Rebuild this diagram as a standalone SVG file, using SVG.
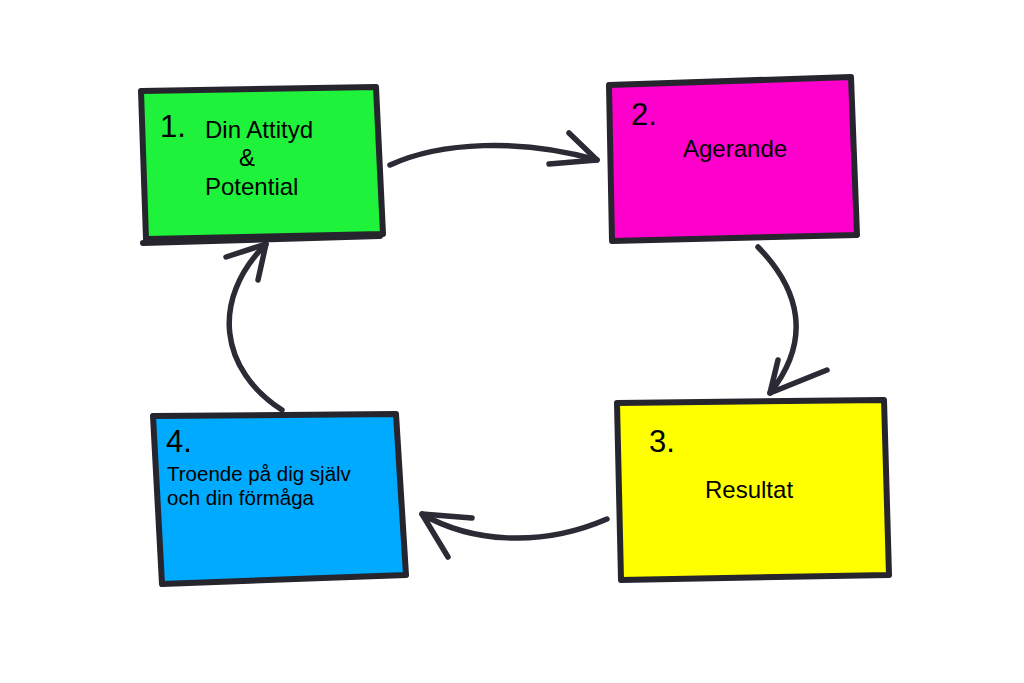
<svg xmlns="http://www.w3.org/2000/svg" width="1024" height="683" viewBox="0 0 1024 683">
<style>
.box{stroke:#26252e;stroke-width:6;stroke-linejoin:round;stroke-linecap:round}
.edge{fill:none;stroke:#2b2a35;stroke-width:5.5;stroke-linecap:round;stroke-linejoin:round}
.num{font-family:"Liberation Sans",Arial,sans-serif;font-size:31px;fill:#000}
.lbl{font-family:"Liberation Sans",Arial,sans-serif;font-size:24px;fill:#000}
.sm{font-family:"Liberation Sans",Arial,sans-serif;font-size:20.5px;fill:#000}
</style>
<rect width="1024" height="683" fill="#ffffff"/>
<g id="connectors">
<g id="e1-2"><path class="edge" d="M390,165 C440,142 520,138 597,160"/><path class="edge" d="M569,133 L597,160 L549,164"/></g>
<g id="e2-3"><path class="edge" d="M758,247 C800,290 812,340 770,393"/><path class="edge" d="M778,360 L770,393 L827,370"/></g>
<g id="e3-4"><path class="edge" d="M607,519 C540,548 470,542 422,514"/><path class="edge" d="M472,518 L422,514 L448,557"/></g>
<g id="e4-1"><path class="edge" d="M282,410 C220,370 210,300 266,244"/><path class="edge" d="M226,257 L266,244 L258,280"/></g>
</g>
<g id="node1">
<path class="box" fill="#1ff23a" d="M141,91 L376,87 L383,234 L146,239 Z"/>
<path class="box" fill="none" d="M143,243 L380,236"/>
<text class="num" x="160" y="137">1.</text>
<text class="lbl" x="205" y="138">Din Attityd</text>
<text class="lbl" x="239" y="166">&amp;</text>
<text class="lbl" x="205" y="195">Potential</text>
</g>
<g id="node2">
<path class="box" fill="#ff00cc" d="M609,85 L851,77 L857,235 L612,241 Z"/>
<text class="num" x="631" y="125">2.</text>
<text class="lbl" x="683" y="157">Agerande</text>
</g>
<g id="node3">
<path class="box" fill="#ffff00" d="M617,403 L884,400 L889,575 L621,580 Z"/>
<text class="num" x="649" y="452">3.</text>
<text class="lbl" x="705" y="498">Resultat</text>
</g>
<g id="node4">
<path class="box" fill="#00aaff" d="M153,416 L396,414 L406,575 L162,584 Z"/>
<text class="num" x="166" y="452">4.</text>
<text class="sm" x="167" y="481">Troende på dig själv</text>
<text class="sm" x="167" y="505">och din förmåga</text>
</g>
</svg>
